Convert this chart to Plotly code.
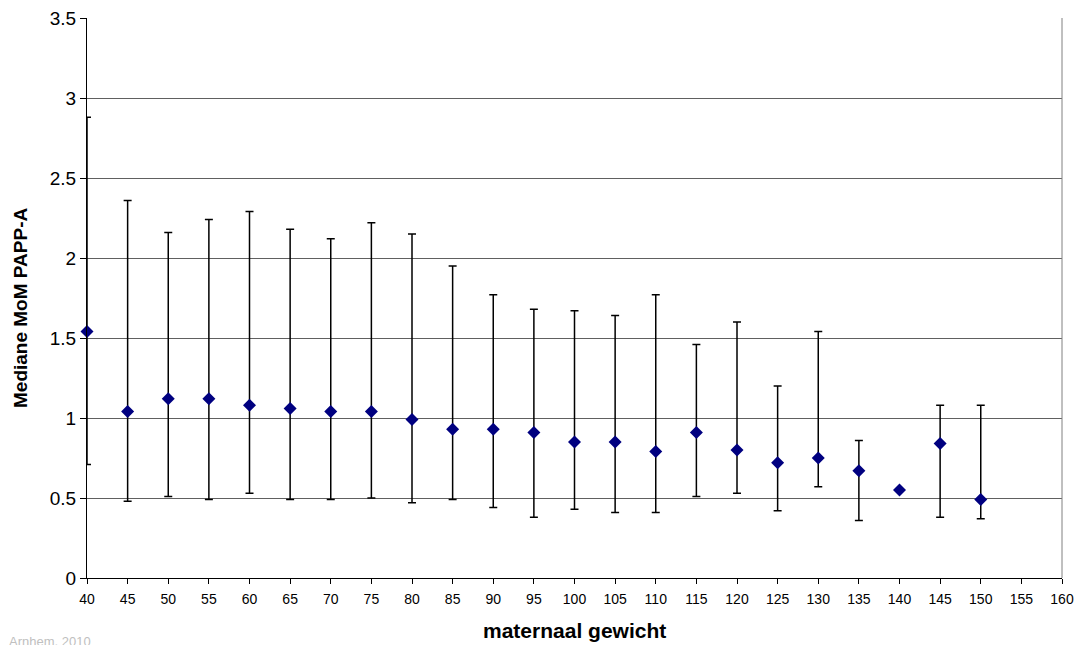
import plotly.graph_objects as go

gewicht = [40, 45, 50, 55, 60, 65, 70, 75, 80, 85, 90, 95, 100, 105, 110, 115, 120, 125, 130, 135, 140, 145, 150]
mediaan = [1.54, 1.04, 1.12, 1.12, 1.08, 1.06, 1.04, 1.04, 0.99, 0.93, 0.93, 0.91, 0.85, 0.85, 0.79, 0.91, 0.80, 0.72, 0.75, 0.67, 0.55, 0.84, 0.49]
boven = [2.88, 2.36, 2.16, 2.24, 2.29, 2.18, 2.12, 2.22, 2.15, 1.95, 1.77, 1.68, 1.67, 1.64, 1.77, 1.46, 1.60, 1.20, 1.54, 0.86, None, 1.08, 1.08]
onder = [0.71, 0.48, 0.51, 0.49, 0.53, 0.49, 0.49, 0.50, 0.47, 0.49, 0.44, 0.38, 0.43, 0.41, 0.41, 0.51, 0.53, 0.42, 0.57, 0.36, None, 0.38, 0.37]

err_plus = [None if b is None else b - m for b, m in zip(boven, mediaan)]
err_minus = [None if o is None else m - o for o, m in zip(onder, mediaan)]

# plot area in pixels: x 87..1062, y 18..578
PW, PH = 975.0, 560.0

fig = go.Figure()
fig.add_trace(go.Scatter(
    x=gewicht, y=mediaan, mode="markers",
    marker=dict(symbol="diamond", size=10, color="#000080"),
    error_y=dict(type="data", symmetric=False, array=err_plus, arrayminus=err_minus,
                 color="black", thickness=1.5, width=4),
    showlegend=False, cliponaxis=False,
))

fig.update_layout(
    width=1080, height=645,
    margin=dict(l=87, r=18, t=18, b=67, autoexpand=False),
    paper_bgcolor="white", plot_bgcolor="white",
    font=dict(family="Arial, Liberation Sans, sans-serif", color="black"),
    shapes=[dict(type="line", xref="paper", yref="paper", x0=1, x1=1, y0=0, y1=1,
                 line=dict(color="#808080", width=1))],
    annotations=[
        dict(text="Arnhem, 2010", xref="paper", yref="paper", x=(7 - 87) / PW, y=-0.096,
             xanchor="left", yanchor="top", showarrow=False,
             font=dict(size=13, color="#c0c0c0")),
        dict(text="<b>maternaal gewicht</b>", xref="paper", yref="paper",
             x=0.5, y=(578 - 630) / PH, xanchor="center", yanchor="middle",
             showarrow=False, font=dict(size=21)),
        dict(text="<b>Mediane MoM PAPP-A</b>", xref="paper", yref="paper",
             x=(21 - 87) / PW, y=(578 - 308) / PH, xanchor="center", yanchor="middle",
             textangle=-90, showarrow=False, font=dict(size=19)),
    ],
)
fig.update_xaxes(
    range=[40, 160], tick0=40, dtick=5, showgrid=False,
    showline=True, linecolor="black", linewidth=1,
    ticks="outside", ticklen=5, tickcolor="black", ticklabelstandoff=3,
    tickfont=dict(size=14), zeroline=False, automargin=False,
)
fig.update_yaxes(
    range=[0, 3.5], tick0=0, dtick=0.5, showgrid=True, gridcolor="#606060", gridwidth=1,
    showline=True, linecolor="black", linewidth=1,
    ticks="outside", ticklen=6, tickcolor="black",
    tickfont=dict(size=19), zeroline=False, automargin=False,
)

fig.write_html("out.html")
